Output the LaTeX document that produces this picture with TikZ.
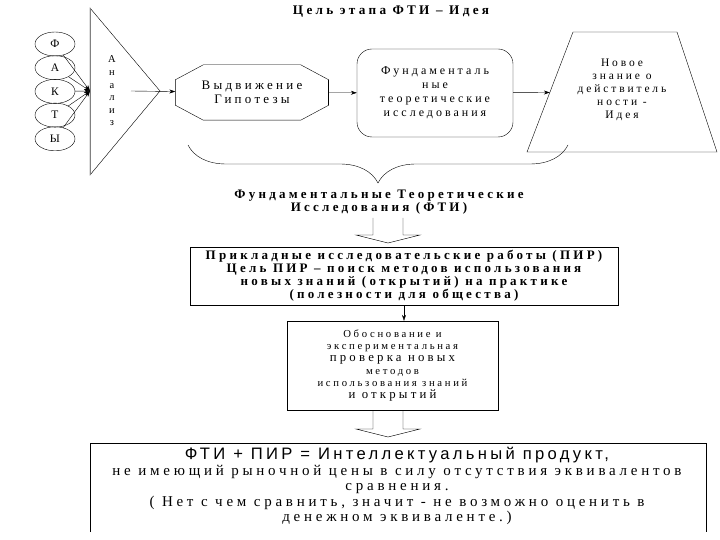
\documentclass[tikz,border=0pt]{standalone}
\usepackage{fontspec}
\setmainfont{Liberation Serif}[LetterSpace=25]
\newfontfamily\sansru{Liberation Sans}[LetterSpace=20]
\usepackage{tikz}
\usetikzlibrary{
  positioning,
  arrows.meta,
  shapes.geometric,
  decorations.pathreplacing,
  calc
}
% open block arrow between two named points
\newcommand{\openarrowdown}[2]{%
  \draw ($(#1)+(-15,0)$) -- ($(#2)+(-15,-8)$) -- ($(#2)+(-32,-8)$) -- (#2)
    -- ($(#2)+(32,-8)$) -- ($(#2)+(15,-8)$) -- ($(#1)+(15,0)$);}

\begin{document}
\begin{tikzpicture}[
    x=1pt, y=-1pt,
    >={Stealth[length=6pt, width=4pt]},
    fact/.style={draw, ellipse, minimum width=40, minimum height=24, inner sep=0pt,
        font=\fontsize{11.5}{11.5}\selectfont},
    txt/.style={align=center, inner sep=0pt},
    box/.style={draw, rectangle, align=center, inner sep=0pt}
]
    \useasboundingbox (0,0) rectangle (720,540);

    % заголовок
    \node[txt, font=\bfseries\fontsize{13.2}{14}\selectfont] (title) at (391,12) {Цель этапа ФТИ – Идея};

    % факты
    \foreach \t [count=\i] in {Ф,А,К,Т,Ы}
        \node[fact] (f\i) at (55, 20.3+23.7*\i) {\t};
    \coordinate (conv) at (90,91);
    \foreach \i in {1,...,5}
        \draw[->] (f\i) -- (conv);

    % анализ
    \draw (90,8) -- (160,91) -- (90,175) -- cycle;
    \draw[gray, line width=1pt] (90,8) -- (90,175);
    \node[txt, font=\fontsize{10.5}{12.6}\selectfont] (an) at (112,91) {А\\н\\а\\л\\и\\з};
    \coordinate (anout) at (131,91);

    % гипотезы
    \node[txt, minimum width=153, minimum height=55, font=\fontsize{13}{14.5}\selectfont] (hyp) at (252,92.5) {Выдвижение\\Гипотезы};
    \draw ($(hyp.north west)+(28,0)$) -- ($(hyp.north east)+(-28,0)$) -- ($(hyp.north east)+(0,15)$)
        -- ($(hyp.south east)+(0,-15)$) -- ($(hyp.south east)+(-28,0)$) -- ($(hyp.south west)+(28,0)$)
        -- ($(hyp.south west)+(0,-15)$) -- ($(hyp.north west)+(0,15)$) -- cycle;
    \draw[line width=1.5pt] ($(hyp.north east)+(0,15)$) -- ($(hyp.south east)+(0,-15)$);
    \draw[->] (anout) -- (hyp);

    % фундаментальные исследования
    \node[box, rounded corners=15, minimum width=156, minimum height=88,
        font=\fontsize{12}{14}\selectfont] (fund) at (435,93) {Фундаменталь\\ные\\теоретические\\исследования};
    \draw[->] (hyp) -- (fund);

    % идея
    \draw (527,152) -- (573,32) -- (677,32) -- (717,152) -- cycle;
    \node[txt, font=\fontsize{11.5}{13}\selectfont] (idea) at (622,90) {Новое\\знание о\\действитель\\ности -\\Идея};
    \coordinate (ideain) at (549.8,92.5);
    \draw[->] (fund) -- (ideain);

    % скобка
    \coordinate (bl) at (188,145);
    \coordinate (br) at (568,145);
    \draw[decorate, decoration={brace, mirror, amplitude=38}] (bl) -- (br);
    \node[txt, font=\bfseries\fontsize{13}{13}\selectfont] (fti) at (379,202) {Фундаментальные Теоретические\\Исследования (ФТИ)};

    \coordinate (a1top) at (388,218);
    \coordinate (a1tip) at (388,243);
    \openarrowdown{a1top}{a1tip}

    % ПИР
    \node[box, minimum width=428, minimum height=58, font=\bfseries\fontsize{13}{13}\selectfont] (pir) at (404,276)
        {Прикладные исследовательские работы (ПИР)\\Цель ПИР – поиск методов использования\\новых знаний (открытий) на практике\\(полезности для общества)};

    \node[box, minimum width=211, minimum height=89, font=\fontsize{10.7}{12.3}\selectfont] (obos) at (392.5,365.5)
        {Обоснование и\\экспериментальная\\{\fontsize{12.8}{12.3}\selectfont проверка новых}\\методов\\использования знаний\\{\fontsize{12.8}{12.3}\selectfont и открытий}};
    \draw[->] (pir.south) -- (pir.south |- obos.north);

    \coordinate (a2top) at (388,410);
    \coordinate (a2tip) at (388,437);
    \openarrowdown{a2top}{a2tip}

    % интеллектуальный продукт
    \draw (90,532) -- (90,443) -- (706,443) -- (706,532);
    \node[txt, font=\fontsize{15}{15.5}\selectfont] (prod) at (397,486)
        {{\sansru\fontsize{16.6}{15.5}\selectfont ФТИ + ПИР = Интеллектуальный продукт,}\\
        не имеющий рыночной цены в силу отсутствия эквивалентов\\
        сравнения.\\
        ( Нет с чем сравнить, значит - не возможно оценить в\\
        денежном эквиваленте.)};
\end{tikzpicture}
\end{document}
